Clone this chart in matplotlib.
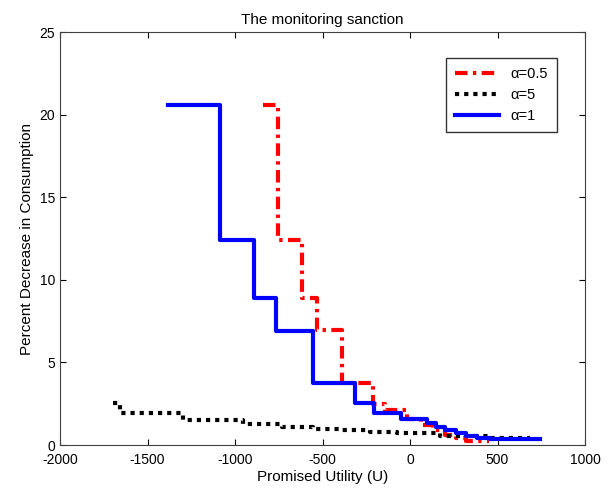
import matplotlib.pyplot as plt

plt.rcParams['font.family'] = ['Liberation Sans', 'DejaVu Sans']
plt.rcParams['axes.unicode_minus'] = False

# step data (x where each level starts, level)
x_half = [-840, -754, -617, -531, -389, -211, -143, -17, 60, 130, 200, 260, 320, 450]
y_half = [20.6, 12.4, 8.9, 6.96, 3.75, 2.5, 2.1, 1.6, 1.2, 0.9, 0.6, 0.4, 0.25, 0.25]

x_five = [-1697, -1657, -1297, -954, -731, -554, -400, -229, -74, 171, 457, 686]
y_five = [2.55, 1.93, 1.5, 1.27, 1.1, 0.97, 0.88, 0.8, 0.7, 0.55, 0.45, 0.45]

x_one = [-1383, -1086, -891, -766, -554, -314, -206, -51, 97, 150, 200, 260, 320, 380, 457, 745]
y_one = [20.6, 12.4, 8.9, 6.9, 3.75, 2.54, 1.94, 1.57, 1.33, 1.1, 0.9, 0.7, 0.55, 0.45, 0.35, 0.35]

fig = plt.figure(figsize=(6.08, 4.95), dpi=100)
ax = fig.add_axes([0.0987, 0.101, 0.8635, 0.834])

ax.plot(x_half, y_half, color='red', lw=3, drawstyle='steps-post',
        linestyle=(0, (3, 1.3, 0.8, 1.3)), label='α=0.5')
ax.plot(x_five, y_five, color='black', lw=3, drawstyle='steps-post',
        linestyle=(0, (1, 1.2)), label='α=5')
ax.plot(x_one, y_one, color='blue', lw=3, drawstyle='steps-post', label='α=1')

ax.set_xlim(-2000, 1000)
ax.set_ylim(0, 25)
ax.set_xticks(range(-2000, 1001, 500))
ax.set_yticks(range(0, 26, 5))
ax.tick_params(direction='in', labelsize=10, top=True, right=True, length=4)
ax.tick_params(axis='x', pad=6)
for s in ax.spines.values():
    s.set_color('#404040')
ax.set_title('The monitoring sanction', fontsize=11)
ax.set_xlabel('Promised Utility (U)', fontsize=11, labelpad=2)
ax.set_ylabel('Percent Decrease in Consumption', fontsize=11)
leg = ax.legend(loc='upper right', fancybox=False, edgecolor='black',
                fontsize=10.5, handlelength=3, borderpad=0.6,
                bbox_to_anchor=(0.96, 0.955))
leg.get_frame().set_linewidth(1)

fig.savefig('out.png', dpi=100)
